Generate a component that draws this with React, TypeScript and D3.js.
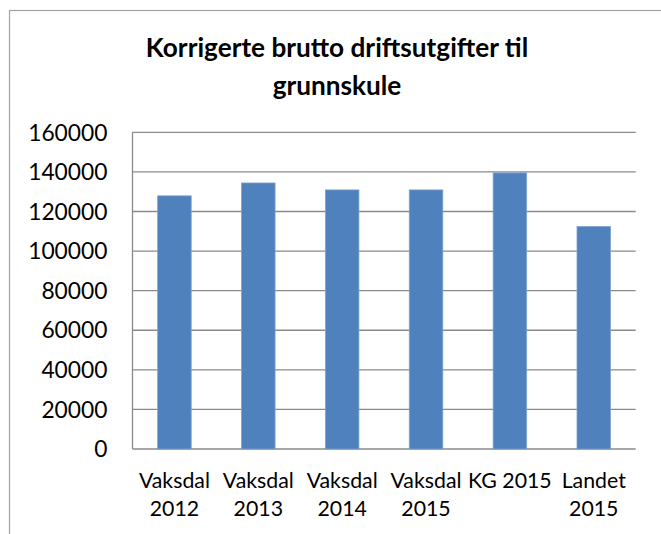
import React from "react";
import * as d3 from "d3";

// chart data
const categories = ["Vaksdal 2012", "Vaksdal 2013", "Vaksdal 2014", "Vaksdal 2015", "KG 2015", "Landet 2015"];
const labelLines = [["Vaksdal", "2012"], ["Vaksdal", "2013"], ["Vaksdal", "2014"], ["Vaksdal", "2015"], ["KG 2015"], ["Landet", "2015"]];
const values = [127900, 134400, 130900, 130900, 139500, 112400];
const yTicks = [0, 20000, 40000, 60000, 80000, 100000, 120000, 140000, 160000];
const titleLines = ["Korrigerte brutto driftsutgifter til", "grunnskule"];

const width = 661;
const height = 534;
const plot = { left: 132.5, right: 635.7, top: 132.3, bottom: 449 };
const font = "Lato, 'Open Sans', sans-serif";

const App = () => {
  const x = d3
    .scaleBand()
    .domain(categories)
    .range([plot.left, plot.right])
    .paddingInner(0.6)
    .paddingOuter(0.3);

  const y = d3.scaleLinear().domain([0, 160000]).range([plot.bottom, plot.top]);

  return (
    <svg
      width={width}
      height={height}
      style={{ position: "absolute", left: 0, top: 0, background: "#fff" }}
    >
      {/* chart area frame, runs off the right and bottom */}
      <rect x={9.5} y={10.5} width={720} height={600} fill="#fff" stroke="#a3a3a3" strokeWidth={1.2} />

      {/* title */}
      <g fontFamily={font} fontWeight="bold" fontSize={26.2} fill="#000" textAnchor="middle">
        {titleLines.map((t, i) => (
          <text key={t} x={337} y={57 + i * 37.5}>
            {t}
          </text>
        ))}
      </g>

      {/* gridlines */}
      {yTicks.map((t) => (
        <line
          key={t}
          x1={plot.left}
          x2={plot.right}
          y1={y(t)}
          y2={y(t)}
          stroke="#8a8a8a"
          strokeWidth={1.3}
        />
      ))}
      <line x1={plot.left} x2={plot.left} y1={plot.top} y2={plot.bottom} stroke="#8a8a8a" strokeWidth={1.3} />

      {/* y tick labels */}
      <g fontFamily={font} fontSize={22.8} fill="#000" textAnchor="end">
        {yTicks.map((t) => (
          <text key={t} x={plot.left - 25} y={y(t)} dy="0.36em">
            {t}
          </text>
        ))}
      </g>

      {/* bars */}
      {categories.map((c, i) => (
        <rect
          key={c}
          x={x(c)}
          y={y(values[i])}
          width={x.bandwidth()}
          height={y(0) - y(values[i])}
          fill="#4f81bd"
          stroke="#7fa3d0"
          strokeWidth={0.8}
        />
      ))}

      {/* category labels */}
      <g fontFamily={font} fontSize={21.3} fill="#000" textAnchor="middle">
        {categories.map((c, i) => (
          <text key={c} x={(x(c) as number) + x.bandwidth() / 2} y={487.5}>
            {labelLines[i].map((l, j) => (
              <tspan key={l} x={(x(c) as number) + x.bandwidth() / 2} dy={j === 0 ? 0 : 28.5}>
                {l}
              </tspan>
            ))}
          </text>
        ))}
      </g>
    </svg>
  );
};

export default App;
